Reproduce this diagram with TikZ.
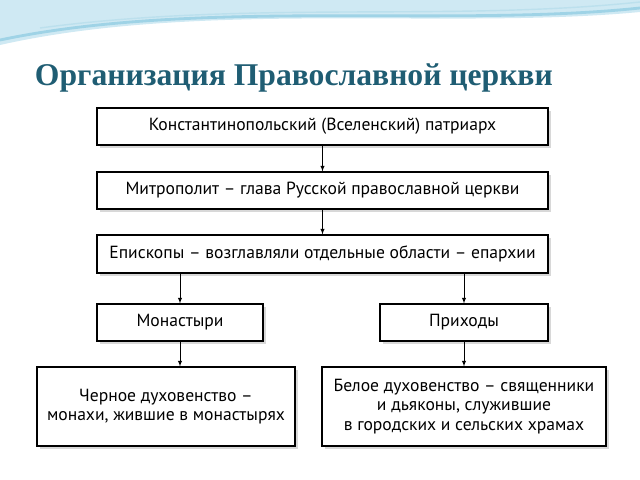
\documentclass[tikz,border=0pt]{standalone}
\usepackage{fontspec}
\setmainfont{PT Sans}
\newfontfamily\titlefont{Liberation Serif}
\usetikzlibrary{positioning,shadows}
\definecolor{titleteal}{HTML}{1F5D73}
\definecolor{wave}{HTML}{9FD3E6}
\tikzset{
  box/.style={draw,thick,fill=white,align=center,inner sep=2pt,font=\fontsize{12.5}{14}\selectfont,
    drop shadow={shadow xshift=2pt,shadow yshift=-2pt,fill=gray!60}},
  link/.style={-latex,thin}
}
\begin{document}
\begin{tikzpicture}[x=0.025cm,y=-0.025cm]
  \useasboundingbox (0,0) rectangle (640,480);
  % top waves
  \fill[wave!50] (0,0) -- (640,0) -- (640,12) .. controls (450,30) and (200,0) .. (0,45) -- cycle;
  \draw[wave,line width=2pt] (0,40) .. controls (200,-2) and (450,28) .. (640,8);
  \draw[wave!70,line width=1pt] (40,28) .. controls (250,0) and (450,22) .. (640,2);
  % title
  \node[font=\titlefont\bfseries\fontsize{22.5}{26}\selectfont,text=titleteal,anchor=west] (title) at (30,78) {Организация Православной церкви};
  % hierarchy
  \node[box,minimum width=451*0.025cm,minimum height=37*0.025cm] (patr) at (322.5,126.5) {Константинопольский (Вселенский) патриарх};
  \node[box,minimum width=451*0.025cm,minimum height=37*0.025cm] (metr) at (322.5,190.5) {Митрополит -- глава Русской православной церкви};
  \node[box,minimum width=451*0.025cm,minimum height=38*0.025cm] (episk) at (322.5,254) {Епископы -- возглавляли отдельные области -- епархии};
  \node[box,minimum width=166*0.025cm,minimum height=37*0.025cm] (monast) at (180,322.5) {Монастыри};
  \node[box,minimum width=168*0.025cm,minimum height=37*0.025cm] (prihod) at (464,322.5) {Приходы};
  \node[box,minimum width=258*0.025cm,minimum height=79*0.025cm] (black) at (166,406.5) {Черное духовенство --\\монахи, жившие в монастырях};
  \node[box,minimum width=284*0.025cm,minimum height=79*0.025cm] (white) at (464,406.5) {Белое духовенство -- священники\\и дьяконы, служившие\\в городских и сельских храмах};
  \draw[link] (patr) -- (metr);
  \draw[link] (metr) -- (episk);
  \draw[link] (episk.south -| monast) -- (monast);
  \draw[link] (episk.south -| prihod) -- (prihod);
  \draw[link] (monast) -- (monast |- black.north);
  \draw[link] (prihod) -- (white);
\end{tikzpicture}
\end{document}
